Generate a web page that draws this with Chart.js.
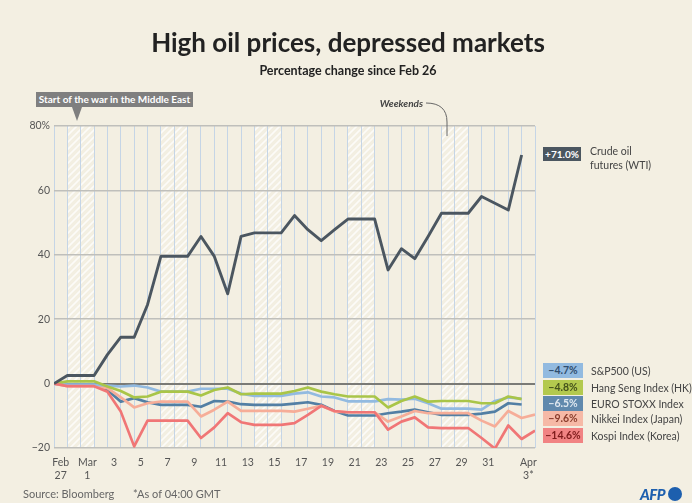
<!DOCTYPE html>
<html><head><meta charset="utf-8">
<script src="https://cdn.jsdelivr.net/npm/chart.js@4.4.1/dist/chart.umd.min.js"></script>
<style>
html,body{margin:0;padding:0;background:#f3efe2;}
#wrap{position:relative;width:692px;height:503px;overflow:hidden;font-family:Lato,"Open Sans",sans-serif;}
canvas{position:absolute;left:0;top:0;}
.abs{position:absolute;white-space:nowrap;}
#title{left:2px;width:692px;top:26px;text-align:center;font-size:26px;font-weight:700;color:#222;line-height:32px;}
#subtitle{left:2px;width:692px;top:63px;text-align:center;font-size:12.5px;font-weight:700;color:#222;line-height:16px;}
#war{left:36px;top:92px;width:157px;height:15px;background:#7f7f7f;color:#fff;font-size:10px;font-weight:700;text-align:center;line-height:15px;}
#warTip{left:72px;top:107px;width:0;height:0;border-left:5px solid transparent;border-right:5px solid transparent;border-top:14px solid #7f7f7f;}
#weekends{left:360px;width:63px;top:96px;text-align:right;font-size:10px;font-weight:700;font-style:italic;color:#444;line-height:14px;}
.box{position:absolute;width:40px;height:15px;font-size:10.5px;font-weight:700;text-align:center;line-height:15px;}
.lab{position:absolute;font-size:10.5px;color:#444;line-height:14px;white-space:nowrap;}
#foot1{left:23px;top:487px;font-size:11px;color:#666;line-height:14px;}
#foot2{left:133px;top:487px;font-size:11px;color:#666;line-height:14px;}
#afp{left:640px;top:485px;font-size:15px;font-weight:900;font-style:italic;color:#1d5fae;line-height:18px;letter-spacing:-0.5px;}
#afpDot{left:668px;top:487px;width:14px;height:14px;border-radius:7px;background:#1d5fae;}
svg{position:absolute;left:0;top:0;}
</style></head><body>
<div id="wrap">
<canvas id="c" width="692" height="503"></canvas>
<svg width="692" height="503"><path d="M 426 103 Q 447 103 447 122 L 447 136" fill="none" stroke="#666" stroke-width="1"/></svg>
<div class="abs" id="title">High oil prices, depressed markets</div>
<div class="abs" id="subtitle">Percentage change since Feb 26</div>
<div class="abs" id="war">Start of the war in the Middle East</div>
<div class="abs" id="warTip"></div>
<div class="abs" id="weekends">Weekends</div>
<div id="legend"></div>
<div class="abs" id="foot1">Source: Bloomberg</div>
<div class="abs" id="foot2">*As of 04:00 GMT</div>
<div class="abs" id="afp">AFP</div>
<div class="abs" id="afpDot"></div>
</div>
<script>
// ---- data ----
const days = ['Feb 26','Feb 27','Feb 28','Mar 1','Mar 2','Mar 3','Mar 4','Mar 5','Mar 6','Mar 7','Mar 8','Mar 9','Mar 10','Mar 11','Mar 12','Mar 13','Mar 14','Mar 15','Mar 16','Mar 17','Mar 18','Mar 19','Mar 20','Mar 21','Mar 22','Mar 23','Mar 24','Mar 25','Mar 26','Mar 27','Mar 28','Mar 29','Mar 30','Mar 31','Apr 1','Apr 2','Apr 3'];
const weekendDays = ['Feb 28','Mar 1','Mar 7','Mar 8','Mar 14','Mar 15','Mar 21','Mar 22','Mar 28','Mar 29'];
const labelDays = ['Feb 27','Mar 1','Mar 3','Mar 5','Mar 7','Mar 9','Mar 11','Mar 13','Mar 15','Mar 17','Mar 19','Mar 21','Mar 23','Mar 25','Mar 27','Mar 29','Mar 31','Apr 3'];
const tickLabels = [['Feb','27'],['Mar','1'],'3','5','7','9','11','13','15','17','19','21','23','25','27','29','31',['Apr','3*']];
const yTicks = [-20, 0, 20, 40, 60, 80];

const oil    = [0,2.5,2.5,2.5,9,14.4,14.4,24.5,39.5,39.5,39.5,45.7,39.5,27.9,45.7,46.8,46.8,46.8,52.2,47.8,44.4,47.8,51.1,51.1,51.1,35.3,41.9,38.8,45.7,52.9,52.9,52.9,58.1,56.0,53.9,71.0];
const sp500  = [0,-0.3,-0.3,-0.3,-0.6,-0.9,-0.6,-1.2,-2.5,-2.5,-2.5,-1.6,-1.6,-1.6,-3.1,-3.8,-3.8,-3.8,-3.1,-2.7,-4.0,-4.3,-5.5,-5.5,-5.5,-4.8,-5.0,-4.7,-6.1,-7.8,-7.8,-7.8,-8.1,-5.4,-4.3,-4.7];
const hangSeng = [0,0.7,0.7,0.7,-0.9,-2.3,-4.3,-4.0,-2.5,-2.5,-2.5,-3.7,-2.0,-1.2,-3.3,-3.1,-3.1,-3.1,-2.3,-1.2,-2.5,-3.3,-4.0,-4.0,-4.0,-7.4,-5.4,-4.0,-5.6,-5.4,-5.4,-5.4,-6.1,-6.1,-4.0,-4.8];
const euroStoxx = [0,-0.3,-0.3,-0.3,-2.0,-5.6,-4.5,-5.8,-6.6,-6.6,-6.6,-7.2,-5.4,-5.6,-6.4,-6.6,-6.6,-6.6,-6.2,-5.8,-6.6,-8.5,-9.9,-9.9,-9.9,-9.2,-8.7,-8.1,-8.9,-9.7,-9.7,-9.7,-9.3,-8.7,-6.1,-6.5];
const nikkei = [0,-0.8,-0.8,-0.8,-1.4,-4.3,-7.4,-6.1,-5.6,-5.6,-5.6,-10.2,-8.1,-5.6,-8.5,-8.5,-8.5,-8.5,-8.7,-7.8,-6.9,-8.7,-8.9,-8.9,-8.9,-11.8,-10.2,-8.5,-9.2,-9.2,-9.2,-9.2,-11.5,-13.3,-8.5,-10.7,-9.6];
const kospi  = [0,-0.8,-0.8,-0.8,-2.5,-8.7,-19.5,-11.5,-11.5,-11.5,-11.5,-16.9,-13.6,-9.2,-12.0,-12.8,-12.8,-12.8,-12.3,-9.7,-6.9,-8.5,-8.9,-8.9,-8.9,-14.3,-11.8,-10.5,-13.6,-13.8,-13.8,-13.8,-16.9,-20.2,-13.0,-17.2,-14.6];

const oilName = ['Crude oil','futures (WTI)'];
const oilChange = '+71.0%';
const indexNames = ['S&P500 (US)','Hang Seng Index (HK)','EURO STOXX Index','Nikkei Index (Japan)','Kospi Index (Korea)'];
const indexChanges = ['\u22124.7%','\u22124.8%','\u22126.5%','\u22129.6%','\u221214.6%'];

// ---- styles ----
const BG = '#f3efe2';
const lineColors = {oil:'#4b5660', sp:'#92bae0', hs:'#a9c548', eu:'#527fa4', nk:'#f6ad98', ks:'#f07676'};
const boxStyles = [
  {bg:'#92bae0', fg:'#2f4d6e'},
  {bg:'#b3c94e', fg:'#44521c'},
  {bg:'#6089ad', fg:'#dfe8f0'},
  {bg:'#f6b9a6', fg:'#8a3d2c'},
  {bg:'#f18383', fg:'#7e1c1c'}
];

// legend html
const leg = document.getElementById('legend');
let h = '';
h += `<div class="box" style="left:543px;top:147px;width:38px;height:14px;line-height:14px;background:#4b5660;color:#fff;font-size:10px">${oilChange}</div>`;
h += `<div class="lab" style="left:590px;top:144px">${oilName[0]}</div>`;
h += `<div class="lab" style="left:590px;top:158px">${oilName[1]}</div>`;
const legTops = [363, 380, 396, 411, 428];
indexNames.forEach((n, k) => {
  h += `<div class="box" style="left:543px;top:${legTops[k]}px;background:${boxStyles[k].bg};color:${boxStyles[k].fg}">${indexChanges[k]}</div>`;
  h += `<div class="lab" style="left:591px;top:${legTops[k]+1}px">${n.replace('&','&amp;')}</div>`;
});
leg.innerHTML = h;

const toXY = arr => arr.map((v, i) => ({x: i, y: v}));
const labelPos = labelDays.map(d => days.indexOf(d) - 0.5);
const labelMap = new Map(labelPos.map((p, k) => [p, tickLabels[k]]));

const hatchPlugin = {
  id: 'hatch',
  beforeDraw(chart) {
    const {ctx, chartArea: a, scales: {x}} = chart;
    ctx.save();
    ctx.fillStyle = BG;
    ctx.fillRect(0, 0, chart.width, chart.height);
    const p = document.createElement('canvas');
    p.width = 7; p.height = 7;
    const pc = p.getContext('2d');
    pc.strokeStyle = 'rgba(255,255,255,0.75)';
    pc.lineWidth = 1.6;
    pc.beginPath();
    pc.moveTo(0, 7); pc.lineTo(7, 0);
    pc.moveTo(-2, 2); pc.lineTo(2, -2);
    pc.moveTo(5, 9); pc.lineTo(9, 5);
    pc.stroke();
    ctx.fillStyle = ctx.createPattern(p, 'repeat');
    weekendDays.forEach(d => {
      const i = days.indexOf(d);
      const x0 = x.getPixelForValue(i - 1), x1 = x.getPixelForValue(i);
      ctx.fillRect(x0, a.top, x1 - x0, a.bottom - a.top);
    });
    ctx.restore();
  }
};

const ds = (label, data, color, w) => ({label, data: toXY(data), borderColor: color, backgroundColor: color, borderWidth: w, pointRadius: 0, tension: 0, fill: false, borderJoinStyle: 'round'});

new Chart(document.getElementById('c'), {
  type: 'line',
  data: {
    datasets: [
      ds('Crude oil futures (WTI)', oil, lineColors.oil, 2.9),
      ds('Kospi Index (Korea)', kospi, lineColors.ks, 2.7),
      ds('Hang Seng Index (HK)', hangSeng, lineColors.hs, 2.7),
      ds('S&P500 (US)', sp500, lineColors.sp, 2.7),
      ds('Nikkei Index (Japan)', nikkei, lineColors.nk, 2.7),
      ds('EURO STOXX Index', euroStoxx, lineColors.eu, 2.7)
    ]
  },
  options: {
    responsive: false,
    animation: false,
    devicePixelRatio: 1,
    layout: {padding: {top: 126, right: 157, bottom: 0, left: 0}},
    plugins: {legend: {display: false}, tooltip: {enabled: false}, title: {display: false}},
    scales: {
      x: {
        type: 'linear',
        min: 0, max: days.length - 1,
        afterBuildTicks: s => {
          const t = days.map((d, i) => ({value: i})).concat(labelPos.map(v => ({value: v})));
          t.sort((a, b) => a.value - b.value);
          s.ticks = t;
        },
        afterFit: s => { s.height = 55; },
        border: {display: false},
        grid: {
          drawTicks: false,
          color: c => (c.tick && Number.isInteger(c.tick.value)) ? '#c5d5e6' : 'rgba(0,0,0,0)',
          lineWidth: 1
        },
        ticks: {
          autoSkip: false, maxRotation: 0, minRotation: 0, padding: 9,
          color: '#555', font: {family: 'Lato', size: 10.5, lineHeight: 1.15},
          callback: v => labelMap.has(v) ? labelMap.get(v) : ''
        }
      },
      y: {
        min: -20, max: 80,
        afterBuildTicks: s => { s.ticks = yTicks.map(v => ({value: v})); },
        afterFit: s => { s.width = 54; },
        border: {display: false},
        grid: {
          drawTicks: false,
          color: c => (c.tick && c.tick.value === 0) ? '#7a7a76' : '#bfbfbb',
          lineWidth: c => (c.tick && c.tick.value === 0) ? 2 : 1.6
        },
        ticks: {
          padding: 4, color: '#555', font: {family: 'Lato', size: 10.5},
          callback: v => v === 80 ? '80%' : (v < 0 ? '\u2212' + Math.abs(v) : String(v))
        }
      }
    }
  },
  plugins: [hatchPlugin]
});
</script>
</body></html>
